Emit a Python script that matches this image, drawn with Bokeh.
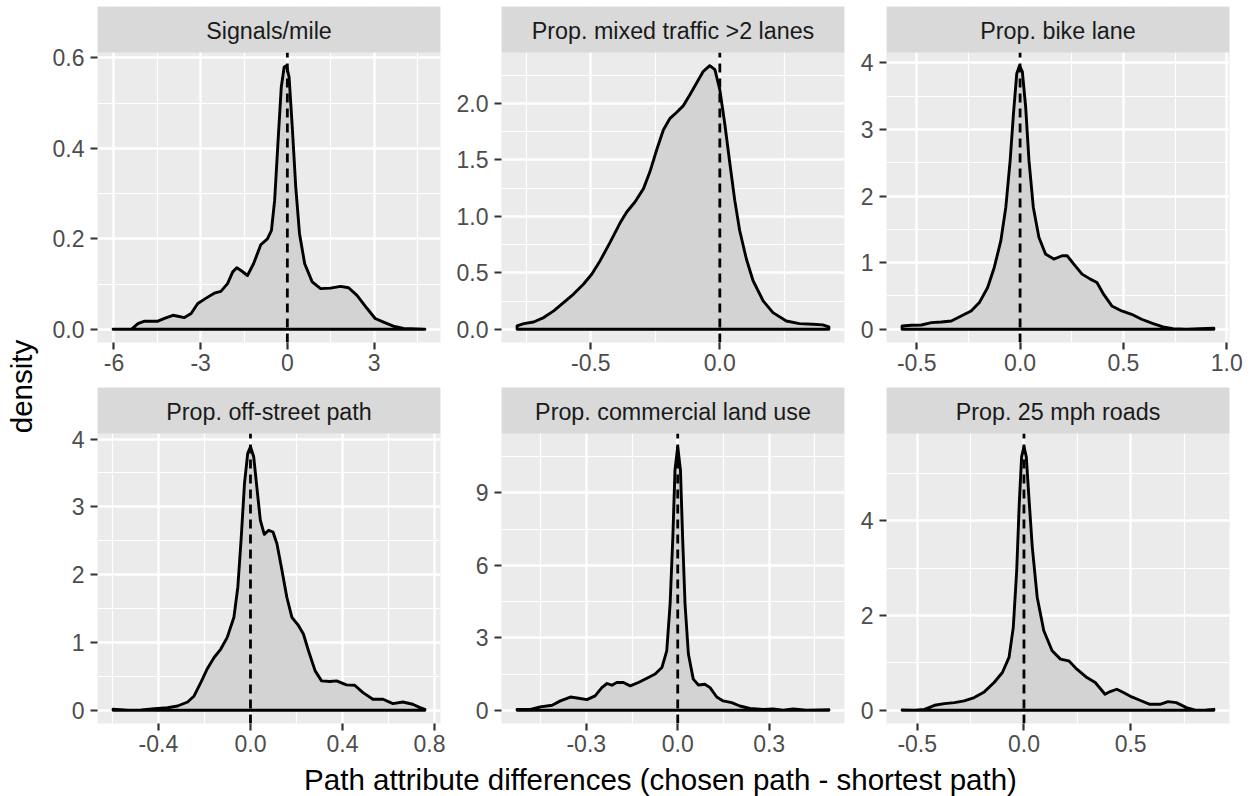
import math
from bokeh.plotting import figure
from bokeh.models import Range1d, FixedTicker, NumeralTickFormatter
from bokeh.layouts import row, column
from bokeh.core.properties import value
from bokeh.embed import file_html
from bokeh.resources import INLINE

FONT = "Liberation Sans"

# ---------------- data ----------------
panel_titles = ["Signals/mile", "Prop. mixed traffic >2 lanes", "Prop. bike lane",
                "Prop. off-street path", "Prop. commercial land use", "Prop. 25 mph roads"]
x_title = "Path attribute differences (chosen path - shortest path)"
y_title = "density"

signals_x = [-6.03, -5.40, -5.17, -4.94, -4.48, -4.25, -3.96, -3.79, -3.56, -3.33, -3.10, -2.81,
             -2.53, -2.30, -2.07, -1.89, -1.75, -1.58, -1.38, -1.17, -0.92, -0.69, -0.55, -0.44,
             -0.32, -0.21, -0.11, -0.03, 0.06, 0.17, 0.29, 0.42, 0.60, 0.86, 1.15, 1.49, 1.84,
             2.12, 2.41, 2.76, 3.04, 3.33, 3.67, 4.02, 4.76]
signals_y = [0.0, 0.0, 0.0125, 0.018, 0.018, 0.024, 0.031, 0.029, 0.026, 0.035, 0.057, 0.069,
             0.080, 0.084, 0.101, 0.127, 0.136, 0.129, 0.119, 0.145, 0.187, 0.200, 0.219, 0.285,
             0.418, 0.536, 0.580, 0.583, 0.558, 0.448, 0.315, 0.212, 0.145, 0.105, 0.090, 0.091,
             0.095, 0.092, 0.075, 0.046, 0.024, 0.016, 0.007, 0.002, 0.0]

mixed_x = [-0.786, -0.760, -0.722, -0.683, -0.644, -0.606, -0.567, -0.528, -0.496, -0.464, -0.425,
           -0.387, -0.361, -0.329, -0.296, -0.271, -0.245, -0.219, -0.193, -0.168, -0.142, -0.116,
           -0.090, -0.064, -0.039, -0.019, 0.0, 0.019, 0.039, 0.058, 0.077, 0.103, 0.129, 0.168,
           0.206, 0.258, 0.309, 0.361, 0.399, 0.423]
mixed_y = [0.030, 0.050, 0.065, 0.104, 0.163, 0.237, 0.312, 0.401, 0.490, 0.608, 0.772, 0.941,
           1.039, 1.128, 1.246, 1.395, 1.588, 1.766, 1.869, 1.920, 1.979, 2.077, 2.181, 2.285,
           2.335, 2.300, 2.122, 1.825, 1.469, 1.142, 0.875, 0.623, 0.430, 0.252, 0.148, 0.074,
           0.050, 0.045, 0.039, 0.021]

bike_x = [-0.571, -0.526, -0.478, -0.429, -0.381, -0.333, -0.285, -0.237, -0.197, -0.157, -0.125,
          -0.093, -0.069, -0.048, -0.032, -0.016, -0.003, 0.011, 0.027, 0.043, 0.064, 0.091, 0.123,
          0.163, 0.204, 0.228, 0.260, 0.300, 0.340, 0.372, 0.404, 0.444, 0.492, 0.540, 0.588,
          0.644, 0.692, 0.740, 0.804, 0.869, 0.938]
bike_y = [0.050, 0.060, 0.065, 0.100, 0.110, 0.125, 0.201, 0.276, 0.401, 0.627, 0.928, 1.330,
          1.832, 2.534, 3.237, 3.839, 3.955, 3.864, 3.337, 2.534, 1.832, 1.380, 1.129, 1.054,
          1.104, 1.104, 0.979, 0.828, 0.753, 0.703, 0.527, 0.351, 0.276, 0.226, 0.151, 0.085,
          0.035, 0.010, 0.0, 0.010, 0.015]

offstreet_x = [-0.597, -0.532, -0.475, -0.417, -0.360, -0.317, -0.273, -0.245, -0.216, -0.187,
               -0.158, -0.129, -0.101, -0.072, -0.055, -0.040, -0.026, -0.012, 0.0, 0.014, 0.029,
               0.043, 0.060, 0.079, 0.098, 0.115, 0.137, 0.158, 0.180, 0.209, 0.230, 0.252, 0.281,
               0.309, 0.345, 0.374, 0.417, 0.453, 0.489, 0.532, 0.576, 0.619, 0.662, 0.705, 0.737,
               0.758]
offstreet_y = [0.015, 0.0, 0.005, 0.025, 0.039, 0.064, 0.123, 0.212, 0.409, 0.617, 0.779, 0.903,
               1.075, 1.371, 1.815, 2.555, 3.344, 3.788, 3.887, 3.739, 3.245, 2.801, 2.594, 2.654,
               2.629, 2.456, 2.062, 1.667, 1.371, 1.248, 1.125, 0.878, 0.582, 0.434, 0.424, 0.434,
               0.375, 0.370, 0.261, 0.163, 0.163, 0.099, 0.123, 0.089, 0.039, 0.015]

commercial_x = [-0.527, -0.483, -0.451, -0.412, -0.385, -0.352, -0.325, -0.298, -0.271, -0.249,
                -0.232, -0.216, -0.200, -0.178, -0.156, -0.129, -0.101, -0.074, -0.052, -0.036,
                -0.025, -0.016, -0.009, 0.0, 0.009, 0.016, 0.024, 0.035, 0.051, 0.068, 0.089,
                0.106, 0.128, 0.149, 0.177, 0.204, 0.237, 0.280, 0.313, 0.346, 0.379, 0.422, 0.496]
commercial_y = [0.04, 0.04, 0.14, 0.21, 0.39, 0.55, 0.50, 0.44, 0.60, 0.94, 1.11, 1.04, 1.15,
                1.15, 1.01, 1.15, 1.33, 1.50, 1.77, 2.46, 4.40, 7.17, 9.94, 10.91, 9.94, 7.17,
                4.40, 2.33, 1.29, 1.05, 1.08, 0.94, 0.55, 0.39, 0.32, 0.18, 0.08, 0.04, 0.06,
                0.01, 0.06, 0.01, 0.03]

mph25_x = [-0.571, -0.512, -0.466, -0.419, -0.373, -0.326, -0.280, -0.233, -0.186, -0.140, -0.101,
           -0.070, -0.050, -0.034, -0.022, -0.011, 0.0, 0.011, 0.023, 0.039, 0.062, 0.093, 0.132,
           0.171, 0.210, 0.248, 0.295, 0.334, 0.380, 0.404, 0.435, 0.466, 0.505, 0.543, 0.590,
           0.637, 0.675, 0.714, 0.761, 0.807, 0.854, 0.890]
mph25_y = [0.007, 0.0, 0.02, 0.106, 0.141, 0.163, 0.198, 0.269, 0.389, 0.587, 0.799, 1.117, 1.753,
           2.954, 4.367, 5.357, 5.569, 5.357, 4.509, 3.449, 2.389, 1.682, 1.258, 1.081, 1.046,
           0.869, 0.693, 0.587, 0.339, 0.396, 0.445, 0.375, 0.283, 0.212, 0.127, 0.127, 0.184,
           0.163, 0.057, 0.0, 0.007, 0.021]

# tick values (major / minor)
signals_xticks, signals_xminor = [-6, -3, 0, 3], [-4.5, -1.5, 1.5, 4.5]
signals_yticks, signals_yminor = [0, 0.2, 0.4, 0.6], [0.1, 0.3, 0.5]
mixed_xticks, mixed_xminor = [-0.5, 0.0], [-0.75, -0.25, 0.25]
mixed_yticks, mixed_yminor = [0, 0.5, 1.0, 1.5, 2.0], [0.25, 0.75, 1.25, 1.75, 2.25]
bike_xticks, bike_xminor = [-0.5, 0.0, 0.5, 1.0], [-0.25, 0.25, 0.75]
bike_yticks, bike_yminor = [0, 1, 2, 3, 4], [0.5, 1.5, 2.5, 3.5]
offstreet_xticks, offstreet_xminor = [-0.4, 0.0, 0.4, 0.8], [-0.6, -0.2, 0.2, 0.6]
offstreet_yticks, offstreet_yminor = [0, 1, 2, 3, 4], [0.5, 1.5, 2.5, 3.5]
commercial_xticks, commercial_xminor = [-0.3, 0.0, 0.3], [-0.45, -0.15, 0.15, 0.45]
commercial_yticks, commercial_yminor = [0, 3, 6, 9], [1.5, 4.5, 7.5, 10.5]
mph25_xticks, mph25_xminor = [-0.5, 0.0, 0.5], [-0.25, 0.25, 0.75]
mph25_yticks, mph25_yminor = [0, 2, 4], [1, 3, 5]

ref_line = 0.0

# ---------------- styling / layout ----------------
PANEL_BG = "#EBEBEB"
STRIP_BG = "#D9D9D9"
FILL = "#D3D3D3"
TICK_TXT = "#4D4D4D"
TICK_FS = "23px"
STRIP_FS = "23.3px"
TITLE_FS = "29.5px"
LEFT_W = 45
COLS = [  # (figure width, left border, right border)
    (400, 52, 5),
    (403, 56, 4),
    (407, 38, 26),
]
STRIP_PX = 46
DATA_PX = 290
ROWS = [  # (top border, bottom border)
    (6, 45),
    (0, 38),
]


def make_panel(title, xs, ys, xt, xm, yt, ym, xfmt, yfmt, col, rw):
    w, bl, br = COLS[col]
    bt, bb = ROWS[rw]
    x0, x1 = min(xs), max(xs)
    px = 0.05 * (x1 - x0)
    lo_x, hi_x = x0 - px, x1 + px
    y0, y1 = 0.0, max(ys)
    py = 0.05 * (y1 - y0)
    lo, hi = y0 - py, y1 + py
    # the strip sits above the data area inside the same frame
    hi_ext = hi + (hi - lo) * STRIP_PX / DATA_PX
    p = figure(width=w, height=bt + STRIP_PX + DATA_PX + bb,
               x_range=Range1d(lo_x, hi_x), y_range=Range1d(lo, hi_ext),
               min_border_left=bl, min_border_right=br, min_border_top=bt,
               min_border_bottom=bb,
               toolbar_location=None, output_backend="svg",
               background_fill_color=PANEL_BG, border_fill_color="white",
               outline_line_color=None)
    p.xaxis.ticker = FixedTicker(ticks=xt, minor_ticks=xm)
    p.yaxis.ticker = FixedTicker(ticks=yt, minor_ticks=ym)
    p.xaxis.formatter = NumeralTickFormatter(format=xfmt)
    p.yaxis.formatter = NumeralTickFormatter(format=yfmt)
    for ax in (p.xaxis[0], p.yaxis[0]):
        ax.axis_line_color = None
        ax.major_tick_line_color = "#333333"
        ax.major_tick_line_width = 2.2
        ax.major_tick_out = 7
        ax.major_tick_in = 0
        ax.minor_tick_line_color = None
        ax.major_label_text_font = FONT
        ax.major_label_text_font_size = TICK_FS
        ax.major_label_text_color = TICK_TXT
    p.xaxis[0].major_label_standoff = 4
    p.yaxis[0].major_label_standoff = 6
    for g in (p.xgrid[0], p.ygrid[0]):
        g.grid_line_color = "white"
        g.grid_line_width = 2.3
        g.minor_grid_line_color = "white"
        g.minor_grid_line_width = 1.2
    # density polygon
    px_ = [xs[0]] + list(xs) + [xs[-1]]
    py_ = [0.0] + list(ys) + [0.0]
    p.patch(px_, py_, fill_color=FILL, line_color="black", line_width=2.9,
            line_join="round")
    # dashed reference line at 0
    p.segment(x0=[ref_line], y0=[lo], x1=[ref_line], y1=[hi], line_color="black",
              line_width=2.8, line_dash="9 6")
    # facet strip
    p.quad(left=[lo_x], right=[hi_x], bottom=[hi], top=[hi_ext], fill_color=STRIP_BG,
           line_color=None)
    ty = hi + (hi_ext - hi) * (0.5 - 1.5 / STRIP_PX)
    p.text(x=[(lo_x + hi_x) / 2], y=[ty], text=[title], text_align="center",
           text_baseline="middle", text_font=value(FONT), text_font_size=STRIP_FS,
           text_color="#1A1A1A")
    return p


panels = [
    make_panel(panel_titles[0], signals_x, signals_y, signals_xticks, signals_xminor,
               signals_yticks, signals_yminor, "0", "0.0", 0, 0),
    make_panel(panel_titles[1], mixed_x, mixed_y, mixed_xticks, mixed_xminor, mixed_yticks,
               mixed_yminor, "0.0", "0.0", 1, 0),
    make_panel(panel_titles[2], bike_x, bike_y, bike_xticks, bike_xminor, bike_yticks,
               bike_yminor, "0.0", "0", 2, 0),
    make_panel(panel_titles[3], offstreet_x, offstreet_y, offstreet_xticks, offstreet_xminor,
               offstreet_yticks, offstreet_yminor, "0.0", "0", 0, 1),
    make_panel(panel_titles[4], commercial_x, commercial_y, commercial_xticks,
               commercial_xminor, commercial_yticks, commercial_yminor, "0.0", "0", 1, 1),
    make_panel(panel_titles[5], mph25_x, mph25_y, mph25_xticks, mph25_xminor, mph25_yticks,
               mph25_yminor, "0.0", "0", 2, 1),
]

TOTAL_H = 796
grid_h = sum(bt + STRIP_PX + DATA_PX + bb for bt, bb in ROWS)
TITLE_H = TOTAL_H - grid_h
grid_w = sum(c[0] for c in COLS)

left = figure(width=LEFT_W, height=TOTAL_H, x_range=Range1d(0, LEFT_W),
              y_range=Range1d(0, TOTAL_H), min_border=0, x_axis_type=None, y_axis_type=None,
              toolbar_location=None, output_backend="svg", background_fill_color="white",
              border_fill_color="white", outline_line_color=None)
left.text(x=[21], y=[TOTAL_H - 386], text=[y_title], angle=math.pi / 2, text_align="center",
          text_baseline="middle", text_font=value(FONT), text_font_size=TITLE_FS,
          text_color="black")

bottom = figure(width=grid_w, height=TITLE_H, x_range=Range1d(0, grid_w),
                y_range=Range1d(0, TITLE_H), min_border=0, x_axis_type=None, y_axis_type=None,
                toolbar_location=None, output_backend="svg", background_fill_color="white",
                border_fill_color="white", outline_line_color=None)
bottom.text(x=[660 - LEFT_W], y=[TOTAL_H - 779], text=[x_title], text_align="center",
            text_baseline="middle", text_font=value(FONT), text_font_size=TITLE_FS,
            text_color="black")

layout = row(left, column(row(*panels[:3]), row(*panels[3:]), bottom))

open("out.html", "w").write(file_html(layout, INLINE))
